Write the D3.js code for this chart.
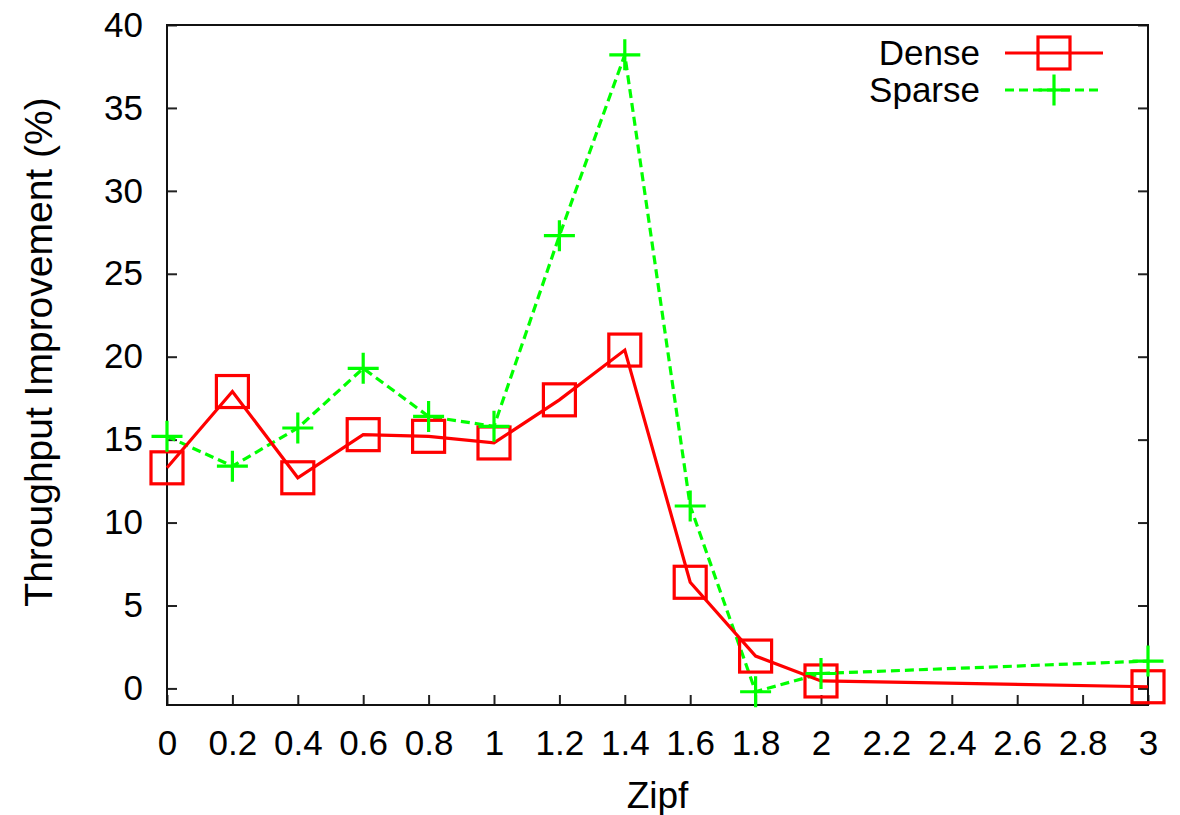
<!DOCTYPE html>
<html>
<head>
<meta charset="utf-8">
<script src="https://cdn.jsdelivr.net/npm/d3@7"></script>
<style>
  html, body { margin: 0; padding: 0; background: #fff; }
  svg { display: block; font-family: "Liberation Sans", Arial, Helvetica, sans-serif; }
</style>
</head>
<body>
<svg id="chart" width="1180" height="815"></svg>
<script>
// ---- data ----
const zipf = [0, 0.2, 0.4, 0.6, 0.8, 1.0, 1.2, 1.4, 1.6, 1.8, 2.0, 3.0];
const dense = [13.3, 17.9, 12.7, 15.3, 15.2, 14.8, 17.4, 20.4, 6.4, 1.95, 0.45, 0.1];
const sparse = [15.2, 13.4, 15.7, 19.3, 16.4, 15.8, 27.3, 38.2, 11.0, -0.2, 0.9, 1.65];
const xTickValues = [0, 0.2, 0.4, 0.6, 0.8, 1, 1.2, 1.4, 1.6, 1.8, 2, 2.2, 2.4, 2.6, 2.8, 3];
const xTickLabels = ["0", "0.2", "0.4", "0.6", "0.8", "1", "1.2", "1.4", "1.6", "1.8", "2", "2.2", "2.4", "2.6", "2.8", "3"];
const yTickValues = [0, 5, 10, 15, 20, 25, 30, 35, 40];
const yTickLabels = ["0", "5", "10", "15", "20", "25", "30", "35", "40"];
const seriesNames = ["Dense", "Sparse"];

// ---- layout ----
const svg = d3.select("#chart");
const L = 167, R = 1148, T = 25, B = 705;
const x = d3.scaleLinear().domain([0, 3]).range([L, R]);
const y = d3.scaleLinear().domain([-1, 40]).range([B, T]);

const RED = "#ff0000", GREEN = "#00ff00";
const FS_TICK = 35;
const LW = 3.2;

// axes
const xAxis = d3.axisBottom(x)
  .tickValues(xTickValues)
  .tickFormat((d, i) => xTickLabels[i])
  .tickSizeInner(-10).tickSizeOuter(0).tickPadding(25);
const gx = svg.append("g").attr("transform", `translate(0,${B})`).call(xAxis);
gx.select(".domain").remove();
gx.selectAll("line").attr("stroke", "#222").attr("stroke-width", 2);
gx.selectAll("text").attr("font-size", FS_TICK).attr("fill", "#000")
  .attr("font-family", "Liberation Sans, Arial, sans-serif");

const yAxis = d3.axisLeft(y)
  .tickValues(yTickValues)
  .tickFormat((d, i) => yTickLabels[i])
  .tickSizeInner(-10).tickSizeOuter(0).tickPadding(24);
const gy = svg.append("g").attr("transform", `translate(${L},0)`).call(yAxis);
gy.select(".domain").remove();
gy.selectAll("line").attr("stroke", "#222").attr("stroke-width", 2);
gy.selectAll("text").attr("font-size", FS_TICK).attr("fill", "#000")
  .attr("font-family", "Liberation Sans, Arial, sans-serif");

// mirrored ticks on right
const yAxisR = d3.axisRight(y)
  .tickValues(yTickValues)
  .tickFormat("")
  .tickSizeInner(-10).tickSizeOuter(0);
const gyr = svg.append("g").attr("transform", `translate(${R},0)`).call(yAxisR);
gyr.select(".domain").remove();
gyr.selectAll("line").attr("stroke", "#222").attr("stroke-width", 2);

// frame
svg.append("rect")
  .attr("x", L).attr("y", T).attr("width", R - L).attr("height", B - T)
  .attr("fill", "none").attr("stroke", "#111").attr("stroke-width", 2);

// axis titles
svg.append("text")
  .attr("x", (L + R) / 2).attr("y", 808)
  .attr("text-anchor", "middle").attr("font-size", 37)
  .text("Zipf");
svg.append("text")
  .attr("transform", `translate(52,352) rotate(-90)`)
  .attr("text-anchor", "middle").attr("font-size", 39)
  .text("Throughput Improvement (%)");

// lines
const line = d3.line().x(d => x(d[0])).y(d => y(d[1]));
const denseData = zipf.map((z, i) => [z, dense[i]]);
const sparseData = zipf.map((z, i) => [z, sparse[i]]);

const plot = svg.append("g");
plot.append("path").datum(sparseData)
  .attr("d", line).attr("fill", "none")
  .attr("stroke", GREEN).attr("stroke-width", LW).attr("stroke-dasharray", "9,5");
plot.append("path").datum(denseData)
  .attr("d", line).attr("fill", "none")
  .attr("stroke", RED).attr("stroke-width", LW);

const SQ = 32, PL = 31;
function square(g, cx, cy) {
  g.append("rect").attr("x", cx - SQ / 2).attr("y", cy - SQ / 2)
    .attr("width", SQ).attr("height", SQ)
    .attr("fill", "none").attr("stroke", RED).attr("stroke-width", LW);
}
function plus(g, cx, cy) {
  g.append("path")
    .attr("d", `M${cx - PL / 2},${cy}H${cx + PL / 2}M${cx},${cy - PL / 2}V${cy + PL / 2}`)
    .attr("stroke", GREEN).attr("stroke-width", LW).attr("fill", "none");
}
denseData.forEach(d => square(plot, x(d[0]), y(d[1])));
sparseData.forEach(d => plus(plot, x(d[0]), y(d[1])));

// legend
const leg = svg.append("g");
const legY = [53, 90];
const lx0 = 1005, lx1 = 1103, lxc = 1054;
seriesNames.forEach((name, i) => {
  leg.append("text")
    .attr("x", 980).attr("y", legY[i]).attr("dy", "0.35em")
    .attr("text-anchor", "end").attr("font-size", 35)
    .text(name);
});
leg.append("line").attr("x1", lx0).attr("x2", lx1).attr("y1", legY[0]).attr("y2", legY[0])
  .attr("stroke", RED).attr("stroke-width", LW);
square(leg, lxc, legY[0]);
leg.append("line").attr("x1", lx0).attr("x2", lx1).attr("y1", legY[1]).attr("y2", legY[1])
  .attr("stroke", GREEN).attr("stroke-width", LW).attr("stroke-dasharray", "9,5");
plus(leg, lxc, legY[1]);
</script>
</body>
</html>
